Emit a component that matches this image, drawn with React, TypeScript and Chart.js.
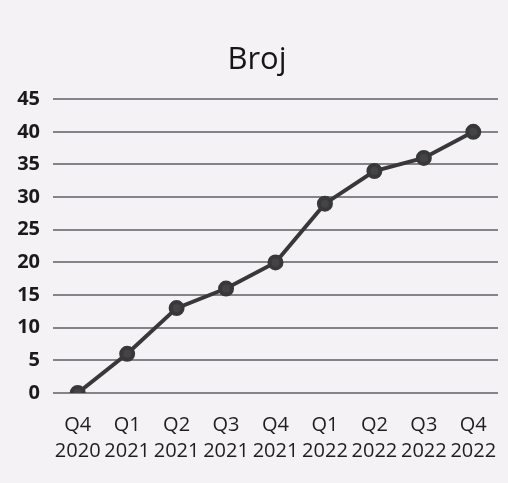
import React, { useEffect, useRef } from "react";
import { Chart, registerables } from "chart.js";

Chart.register(...registerables);

const quarters: string[] = ["Q4", "Q1", "Q2", "Q3", "Q4", "Q1", "Q2", "Q3", "Q4"];
const years: string[] = ["2020", "2021", "2021", "2021", "2021", "2022", "2022", "2022", "2022"];
const broj: number[] = [0, 6, 13, 16, 20, 29, 34, 36, 40];
const title = "Broj";

export default function App() {
  const ref = useRef<HTMLCanvasElement>(null);
  useEffect(() => {
    document.body.style.margin = "0";
    document.body.style.background = "#f4f2f4";
    const labels = quarters.map((q, i) => [q, years[i]]);
    const chart = new Chart(ref.current!, {
      type: "line",
      data: {
        labels,
        datasets: [
          {
            label: title,
            data: broj,
            borderColor: "#38383a",
            backgroundColor: "#38383a",
            borderWidth: 4,
            pointRadius: 6,
            pointBackgroundColor: "#444446",
            pointBorderColor: "#38383a",
            tension: 0,
          },
        ],
      },
      options: {
        animation: false,
        responsive: false,
        layout: { padding: { left: 0, right: -6, top: 42, bottom: 0 } },
        plugins: {
          legend: { display: false },
          tooltip: { enabled: false },
          title: {
            display: true,
            text: title,
            color: "#161616",
            font: { family: "Open Sans", size: 31, weight: "normal", lineHeight: 1.2 },
            padding: { top: 0, bottom: 20 },
          },
        },
        scales: {
          x: {
            offset: true,
            afterFit: (s: any) => {
              s.paddingLeft = 0;
              s.paddingRight = 0;
            },
            grid: { display: false, drawTicks: false },
            border: { display: false },
            ticks: {
              color: "#1e1e1e",
              font: { family: "Open Sans", size: 20, lineHeight: 1.3 },
              padding: 19,
              maxRotation: 0,
              autoSkip: false,
            },
          },
          y: {
            min: 0,
            max: 45,
            afterFit: (s: any) => {
              s.width = 53;
            },
            grid: { color: "#858387", lineWidth: 2, drawTicks: false },
            border: { display: false },
            ticks: {
              stepSize: 5,
              color: "#1a1a1a",
              font: { family: "Open Sans", size: 20, weight: "bold" },
              padding: 13,
            },
          },
        },
      },
    });
    return () => chart.destroy();
  }, []);
  return (
    <div style={{ width: 508, height: 483, background: "#f4f2f4" }}>
      <canvas ref={ref} width={508} height={483} style={{ display: "block" }} />
    </div>
  );
}
